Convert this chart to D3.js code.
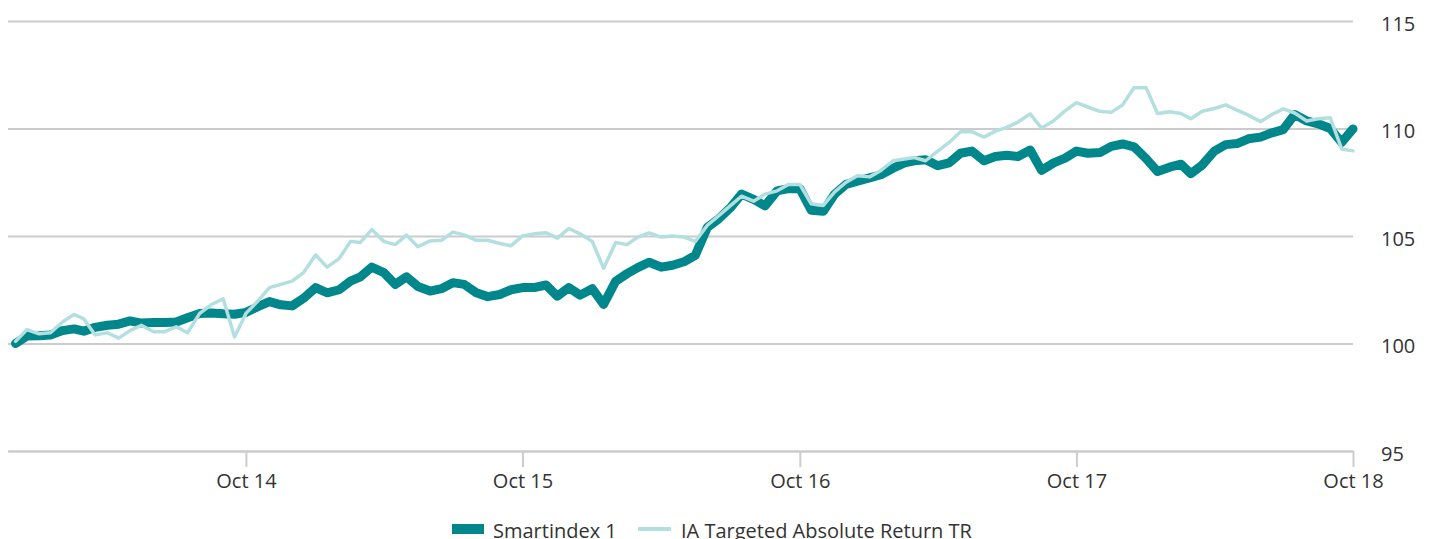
<!DOCTYPE html>
<html>
<head>
<meta charset="utf-8">
<script src="https://cdn.jsdelivr.net/npm/d3@7"></script>
<style>
    body { margin: 0; background: #fff; }
    svg { display: block; font-family: 'Open Sans', sans-serif; }
    .axis { font-family: 'Open Sans', sans-serif; }
    .axis text { font-size: 20px; fill: #333; }
    .axis line, .axis path { stroke: #cccccc; stroke-width: 2; }
    .legend text { font-size: 20px; fill: #333; }
</style>
</head>
<body>
<div id="chart"></div>
<script>
const dates = [
    '2013-12-01', '2013-12-16',
    '2014-01-01', '2014-01-16', '2014-02-01', '2014-02-16', '2014-03-01', '2014-03-16',
    '2014-04-01', '2014-04-16', '2014-05-01', '2014-05-16', '2014-06-01', '2014-06-16',
    '2014-07-01', '2014-07-16', '2014-08-01', '2014-08-16', '2014-09-01', '2014-09-16',
    '2014-10-01', '2014-10-16', '2014-11-01', '2014-11-16', '2014-12-01', '2014-12-16',
    '2015-01-01', '2015-01-16', '2015-02-01', '2015-02-16', '2015-03-01', '2015-03-16',
    '2015-04-01', '2015-04-16', '2015-05-01', '2015-05-16', '2015-06-01', '2015-06-16',
    '2015-07-01', '2015-07-16', '2015-08-01', '2015-08-16', '2015-09-01', '2015-09-16',
    '2015-10-01', '2015-10-16', '2015-11-01', '2015-11-16', '2015-12-01', '2015-12-16',
    '2016-01-01', '2016-01-16', '2016-02-01', '2016-02-16', '2016-03-01', '2016-03-16',
    '2016-04-01', '2016-04-16', '2016-05-01', '2016-05-16', '2016-06-01', '2016-06-16',
    '2016-07-01', '2016-07-16', '2016-08-01', '2016-08-16', '2016-09-01', '2016-09-16',
    '2016-10-01', '2016-10-16', '2016-11-01', '2016-11-16', '2016-12-01', '2016-12-16',
    '2017-01-01', '2017-01-16', '2017-02-01', '2017-02-16', '2017-03-01', '2017-03-16',
    '2017-04-01', '2017-04-16', '2017-05-01', '2017-05-16', '2017-06-01', '2017-06-16',
    '2017-07-01', '2017-07-16', '2017-08-01', '2017-08-16', '2017-09-01', '2017-09-16',
    '2017-10-01', '2017-10-16', '2017-11-01', '2017-11-16', '2017-12-01', '2017-12-16',
    '2018-01-01', '2018-01-16', '2018-02-01', '2018-02-16', '2018-03-01', '2018-03-16',
    '2018-04-01', '2018-04-16', '2018-05-01', '2018-05-16', '2018-06-01', '2018-06-16',
    '2018-07-01', '2018-07-16', '2018-08-01', '2018-08-16', '2018-09-01', '2018-09-16',
    '2018-10-01'
];

const smartindex = [
    100.0, 100.35, 100.36, 100.4, 100.6, 100.68, 100.57, 100.75, 100.85, 100.9,
    101.05, 100.95, 100.98, 100.98, 101.0, 101.2, 101.4, 101.42, 101.38, 101.36,
    101.45, 101.7, 101.95, 101.8, 101.75, 102.1, 102.6, 102.36, 102.5, 102.9,
    103.1, 103.55, 103.3, 102.75, 103.1, 102.65, 102.44, 102.55, 102.83, 102.75,
    102.36, 102.18, 102.28, 102.5, 102.6, 102.6, 102.72, 102.2, 102.6, 102.25,
    102.55, 101.82, 102.9, 103.25, 103.53, 103.78, 103.55, 103.64, 103.8, 104.1,
    105.4, 105.8, 106.3, 106.95, 106.7, 106.4, 107.1, 107.2, 107.2, 106.2,
    106.15, 106.95, 107.4, 107.55, 107.7, 107.85, 108.15, 108.4, 108.5, 108.55,
    108.27, 108.4, 108.85, 108.95, 108.5, 108.7, 108.76, 108.7, 109.0, 108.05,
    108.4, 108.62, 108.95, 108.85, 108.88, 109.17, 109.28, 109.15, 108.6, 108.0,
    108.2, 108.34, 107.9, 108.3, 108.95, 109.25, 109.3, 109.52, 109.6, 109.8,
    109.95, 110.65, 110.35, 110.22, 110.0, 109.35, 109.98
];

const iaTargeted = [
    100.1, 100.65, 100.45, 100.5, 101.0, 101.35, 101.15, 100.4, 100.5, 100.25,
    100.6, 100.85, 100.55, 100.55, 100.78, 100.5, 101.4, 101.8, 102.08, 100.3,
    101.4, 101.95, 102.6, 102.75, 102.9, 103.3, 104.12, 103.55, 103.95, 104.75,
    104.7, 105.3, 104.75, 104.6, 105.04, 104.5, 104.77, 104.8, 105.18, 105.05,
    104.8, 104.8, 104.65, 104.55, 105.0, 105.1, 105.15, 104.9, 105.35, 105.1,
    104.75, 103.5, 104.7, 104.6, 104.95, 105.15, 104.95, 105.0, 104.95, 104.75,
    105.5, 105.95, 106.4, 106.85, 106.62, 106.95, 107.1, 107.4, 107.4, 106.5,
    106.42, 107.05, 107.5, 107.8, 107.75, 108.05, 108.5, 108.58, 108.65, 108.5,
    108.95, 109.35, 109.85, 109.85, 109.6, 109.88, 110.05, 110.3, 110.68, 110.02,
    110.36, 110.82, 111.2, 111.0, 110.8, 110.75, 111.1, 111.9, 111.9, 110.7,
    110.78, 110.7, 110.45, 110.8, 110.93, 111.1, 110.85, 110.62, 110.32, 110.65,
    110.91, 110.72, 110.35, 110.45, 110.5, 109.05, 108.96
];

const seriesNames = ['Smartindex 1', 'IA Targeted Absolute Return TR'];
const xTicks = ['2014-10-01', '2015-10-01', '2016-10-01', '2017-10-01', '2018-10-01'];
const yTicks = [95, 100, 105, 110, 115];
const xDomain = ['2013-11-21', '2018-10-01'];

const width = 1432,
    height = 539;
const plot = { left: 8, right: 1353, top: 21, bottom: 451 };
const colours = { smart: '#00878c', ia: '#b3dfe0', text: '#333333' };

const parse = d3.timeParse('%Y-%m-%d');

let xScale = d3.scaleTime()
    .domain(xDomain.map(parse))
    .range([plot.left, plot.right]);

let yScale = d3.scaleLinear()
    .domain([95, 115])
    .range([plot.bottom, plot.top]);

let svg = d3.select('#chart')
    .append('svg')
    .attr('width', width)
    .attr('height', height);

// gridlines + labels on the right
let yAxis = svg.append('g')
    .attr('class', 'y axis')
    .attr('transform', `translate(${plot.right}, 0)`)
    .call(d3.axisRight(yScale)
        .tickValues(yTicks)
        .tickSize(-(plot.right - plot.left))
        .tickPadding(28));
yAxis.select('.domain').remove();
yAxis.selectAll('text').attr('dy', '0.45em');

svg.append('g')
    .attr('class', 'x axis')
    .attr('transform', `translate(0, ${plot.bottom})`)
    .call(d3.axisBottom(xScale)
        .tickValues(xTicks.map(parse))
        .tickFormat(d3.timeFormat('%b %y'))
        .tickSize(16)
        .tickSizeOuter(0)
        .tickPadding(7));

svg.selectAll('.axis').attr('font-family', null).attr('font-size', null);

let line = d3.line()
    .x(d => xScale(d.date))
    .y(d => yScale(d.value));

const toPoints = values => values.map((v, i) => ({ date: parse(dates[i]), value: v }));

svg.append('path')
    .datum(toPoints(smartindex))
    .attr('fill', 'none')
    .attr('stroke', colours.smart)
    .attr('stroke-width', 9)
    .attr('stroke-linejoin', 'round')
    .attr('stroke-linecap', 'round')
    .attr('d', line);

svg.append('path')
    .datum(toPoints(iaTargeted))
    .attr('fill', 'none')
    .attr('stroke', colours.ia)
    .attr('stroke-width', 3.5)
    .attr('stroke-linejoin', 'round')
    .attr('stroke-linecap', 'round')
    .attr('d', line);

// legend
let legend = svg.append('g').attr('class', 'legend');

legend.append('rect')
    .attr('x', 452).attr('y', 524)
    .attr('width', 32).attr('height', 10)
    .attr('fill', colours.smart);
legend.append('text')
    .attr('x', 493).attr('y', 538)
    .text(seriesNames[0]);

legend.append('rect')
    .attr('x', 638).attr('y', 527)
    .attr('width', 33).attr('height', 4)
    .attr('fill', colours.ia);
legend.append('text')
    .attr('x', 681).attr('y', 538)
    .text(seriesNames[1]);
</script>
</body>
</html>
